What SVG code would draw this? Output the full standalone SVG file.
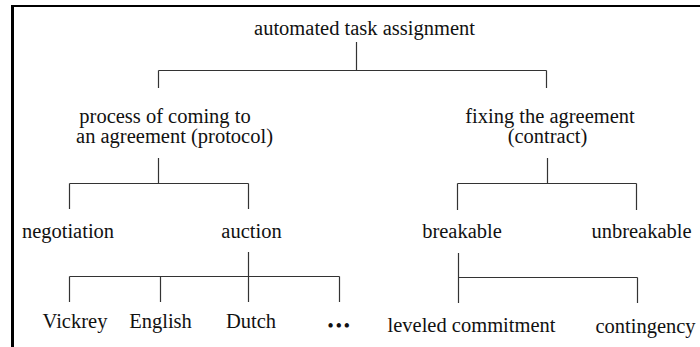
<svg xmlns="http://www.w3.org/2000/svg" width="700" height="347" viewBox="0 0 700 347">
<style>
text{font-family:"Liberation Serif","Times New Roman",serif;font-size:20.5px;fill:#111;text-anchor:middle}
.c{stroke:#333;stroke-width:1.2;fill:none}
.f{stroke:#000;fill:none}
</style>
<rect width="700" height="347" fill="#fff"/>
<g id="frame">
<line class="f" x1="12.5" y1="5" x2="12.5" y2="347" stroke-width="3"/>
<line class="f" x1="11" y1="6" x2="700" y2="6" stroke-width="2"/>
</g>
<g id="connectors">
<path class="c" d="M356.5,42V70.5M158.5,70.5H546.5M158.5,70.5V88M546.5,70.5V88"/>
<path class="c" d="M158.5,158V183.5M69.5,183.5H248.5M69.5,183.5V209M248.5,183.5V209"/>
<path class="c" d="M248.5,252V276.5M69.5,276.5H339.5M69.5,276.5V302M160.5,276.5V302M248.5,276.5V302M339.5,276.5V302"/>
<path class="c" d="M547.5,158V183.5M457.5,183.5H636.5M457.5,183.5V210M636.5,183.5V210"/>
<path class="c" d="M458.5,253V303M458.5,277.5H637.5M637.5,277.5V303"/>
</g>
<g id="root"><text x="364.5" y="35">automated task assignment</text></g>
<g id="protocol"><text x="165" y="123">process of coming to</text><text x="174.5" y="143">an agreement (protocol)</text></g>
<g id="contract"><text x="550" y="123">fixing the agreement</text><text x="547.5" y="143">(contract)</text></g>
<g id="negotiation"><text x="68" y="238">negotiation</text></g>
<g id="auction"><text x="251.5" y="238">auction</text></g>
<g id="breakable"><text x="462" y="238">breakable</text></g>
<g id="unbreakable"><text x="641.5" y="238">unbreakable</text></g>
<g id="vickrey"><text x="75" y="328">Vickrey</text></g>
<g id="english"><text x="160.5" y="328">English</text></g>
<g id="dutch"><text x="251" y="328">Dutch</text></g>
<g id="more"><text x="340" y="331" style="font-size:16px;font-weight:bold;letter-spacing:2.5px">•••</text></g>
<g id="leveled"><text x="471.5" y="332">leveled commitment</text></g>
<g id="contingency"><text x="645.5" y="333">contingency</text></g>
</svg>
